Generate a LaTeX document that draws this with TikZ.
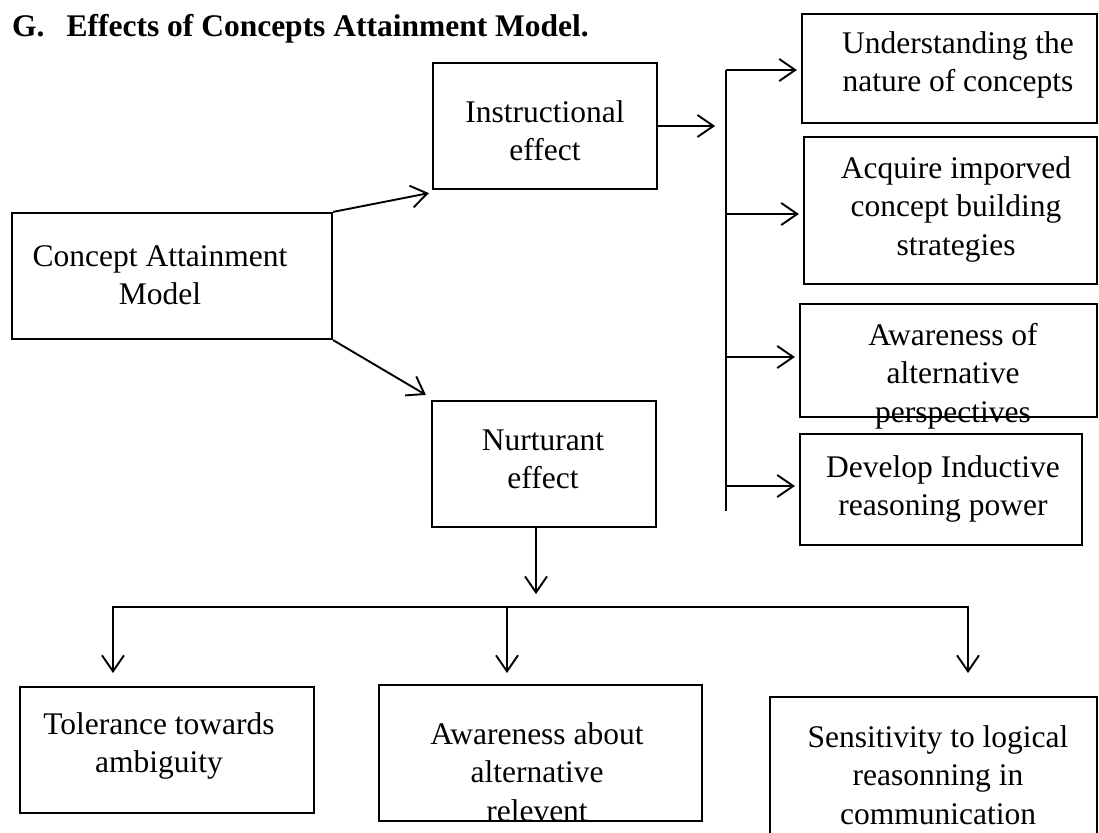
\documentclass[tikz,border=0pt]{standalone}
\usepackage{fontspec}
\setmainfont{Liberation Serif}
\usetikzlibrary{arrows.meta,calc}
\tikzset{
  box/.style={draw, line width=2.2pt, rectangle, inner sep=0pt},
  txt/.style={anchor=north, align=center, inner sep=0pt, font=\fontsize{31.5}{38.5}\selectfont},
  barb/.tip={Straight Barb[length=16pt,width=22pt,line width=1.9pt]},
  ln/.style={line width=1.9pt},
  arr/.style={ln, -barb},
  dblarr/.style={ln, barb-barb}
}
\begin{document}
\begin{tikzpicture}[x=1pt,y=-1pt]
\useasboundingbox (0,0) rectangle (1099,832);
\clip (0,0) rectangle (1099,832);

% title
\node[anchor=base west, inner sep=0pt, font=\fontsize{31.5}{38}\selectfont\bfseries] (title) at (12,37) {G.\hspace{22pt}Effects of Concepts Attainment Model.};

% boxes
\node[box, minimum width=320pt, minimum height=126pt] (cam) at (172,276) {};
\node[box, minimum width=224pt, minimum height=126pt] (ins) at (545,126) {};
\node[box, minimum width=224pt, minimum height=126pt] (nur) at (544,464) {};
\node[box, minimum width=295pt, minimum height=109pt] (b1) at (949.5,68.5) {};
\node[box, minimum width=293pt, minimum height=147pt] (b2) at (950.5,210.5) {};
\node[box, minimum width=297pt, minimum height=113pt] (b3) at (948.5,360.5) {};
\node[box, minimum width=282pt, minimum height=111pt] (b4) at (941,489.5) {};
\node[box, minimum width=294pt, minimum height=126pt] (tol) at (167,750) {};
\node[box, minimum width=323pt, minimum height=136pt] (awa) at (540.5,753) {};
\node[box, minimum width=327pt, minimum height=163pt] (sen) at (933.5,778.5) {};

% texts
\node[txt] (tcam) at (160,239.05) {\strut Concept Attainment\\Model};
\node[txt] (tins) at (545,95.05) {\strut Instructional\\effect};
\node[txt] (tnur) at (543,423.05) {\strut Nurturant\\effect};
\node[txt] (tb1) at (958,26.05) {\strut Understanding the\\nature of concepts};
\node[txt] (tb2) at (956,151.05) {\strut Acquire imporved\\concept building\\strategies};
\node[txt] (tb3) at (953,318.05) {\strut Awareness of\\alternative\\perspectives};
\node[txt] (tb4) at (943,450.05) {\strut Develop Inductive\\reasoning power};
\node[txt] (ttol) at (159,707.05) {\strut Tolerance towards\\ambiguity};
\node[txt] (tawa) at (537,717.05) {\strut Awareness about\\alternative\\relevent};
\node[txt] (tsen) at (938,720.05) {\strut Sensitivity to logical\\reasonning in\\communication};

% connectors from the model
\draw[arr] (cam.north east) -- ([xshift=-3pt,yshift=-3pt]ins.south west);
\draw[arr] (cam.south east) -- ([xshift=-5pt,yshift=5pt]nur.north west);

% instructional effect bus
\draw[arr] (ins.east) -- ++(57,0);
\coordinate (bt) at (726,70);
\coordinate (bb) at (726,511);
\draw[ln] (bt) -- (bb);
\coordinate (j1) at (726,70);
\coordinate (j2) at (726,214);
\coordinate (j3) at (726,357);
\coordinate (j4) at (726,486);
\draw[arr, shorten >=4pt] (j1) -- (j1 -| b1.west);
\draw[arr, shorten >=4pt] (j2) -- (j2 -| b2.west);
\draw[arr, shorten >=4pt] (j3) -- (j3 -| b3.west);
\draw[arr, shorten >=4pt] (j4) -- (j4 -| b4.west);

% nurturant effect bracket
\draw[arr] ([xshift=-8pt]nur.south) -- ++(0,66);
\coordinate (hl) at (113,607);
\coordinate (hm) at (507,607);
\coordinate (hr) at (968,607);
\coordinate (tl) at (113,673);
\coordinate (tm) at (507,673);
\coordinate (tr) at (968,673);
\draw[dblarr] (tl) -- (hl) -- (hr) -- (tr);
\draw[arr] (hm) -- (tm);
\end{tikzpicture}
\end{document}
